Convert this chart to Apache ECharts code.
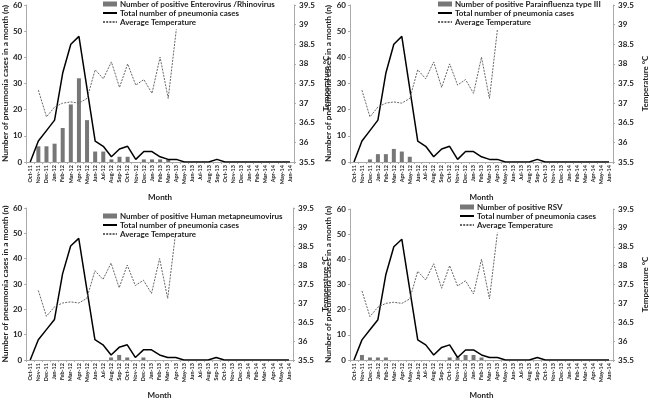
<!DOCTYPE html>
<html><head><meta charset="utf-8">
<script src="https://cdn.jsdelivr.net/npm/echarts@6/dist/echarts.min.js"></script>
<style>html,body{margin:0;padding:0;background:#fff}#c{width:650px;height:400px}</style>
</head><body><div id="c"></div>
<script>
const months = ["Oct-11","Nov-11","Dec-11","Jan-12","Feb-12","Mar-12","Apr-12","May-12","Jun-12","Jul-12","Aug-12","Sep-12","Oct-12","Nov-12","Dec-12","Jan-13","Feb-13","Mar-13","Apr-13","May-13","Jun-13","Jul-13","Aug-13","Sep-13","Oct-13","Nov-13","Dec-13","Jan-14","Feb-14","Mar-14","Apr-14","May-14","Jun-14"];
const totalCases = [0,8,12,16,34,45,48,28,8,6,2,5,6,1,4,4,2,1,1,0,0,0,0,1,0,0,0,0,0,0,0,0,0];
const avgTemp = [null,37.33,36.65,36.9,37.0,37.03,37.0,37.12,37.85,37.62,38.05,37.4,38.0,37.46,37.6,37.25,38.17,37.12,38.88,null,null,null,null,null,null,null,null,null,null,null,null,null,null];
const enteroRhino = [0,6,6,7,13,22,32,16,4,4,1,2,2,0,1,1,1,1,0,0,0,0,0,0,0,0,0,0,0,0,0,0,0];
const parainfluenza3 = [0,0,1,3,3,5,4,2,0,0,0,0,0,0,0,0,0,0,0,0,0,0,0,0,0,0,0,0,0,0,0,0,0];
const hMPV = [0,0,0,0,0,0,0,0,0,0,1,2,1,0,1,0,0,0,0,0,0,0,0,0,0,0,0,0,0,0,0,0,0];
const rsv = [0,2,1,1,1,0,0,0,0,0,0,0,1,1,2,2,1,0,0,0,0,0,0,0,0,0,0,0,0,0,0,0,0];
const barNames = ["Number of positive Enterovirus /Rhinovirus","Number of positive Parainfluenza type III","Number of positive Human metapneumovirus","Number of positive RSV"];
const barData = [enteroRhino, parainfluenza3, hMPV, rsv];
const leftTicks = [0,60,10];
const rightTicks = [35.5,39.5,0.5];

const FONT = "Lato";
const TXT = '#222';
const grids = [
  {left:24, width:270, top:5, height:157},
  {left:350, width:270, top:5, height:157},
  {left:25, width:268, top:208, height:158},
  {left:350, width:270, top:209, height:157}
];
const legendPos = [
  {left:102, top:0},
  {left:437, top:0},
  {left:102, top:212},
  {left:459, top:203}
];
const noSym = {color:'rgba(0,0,0,0)', borderWidth:0, opacity:0};
const xAxis=[], yAxis=[], series=[], legend=[];
grids.forEach((g,i)=>{
  xAxis.push({type:'category', gridIndex:i, data:months, boundaryGap:true,
    name:'Month', nameLocation:'middle', nameGap:31,
    nameTextStyle:{fontFamily:FONT,fontWeight:'bold',fontSize:8,color:TXT},
    axisLine:{lineStyle:{color:'#aaa',width:1}},
    axisTick:{show:true,length:2,lineStyle:{color:'#aaa'}},
    axisLabel:{rotate:90,interval:0,fontSize:5.5,fontFamily:FONT,fontWeight:'bold',color:TXT,margin:3}});
  yAxis.push({type:'value', gridIndex:i, min:leftTicks[0], max:leftTicks[1], interval:leftTicks[2],
    name:'Number of pneumonia cases in a month (n)', nameLocation:'middle', nameGap:17,
    nameTextStyle:{fontFamily:FONT,fontWeight:'bold',fontSize:8.3,color:TXT},
    splitLine:{show:false},
    axisLine:{show:true,lineStyle:{color:'#aaa'}},
    axisTick:{show:true,length:2,lineStyle:{color:'#aaa'}},
    axisLabel:{fontSize:8,fontFamily:FONT,fontWeight:'bold',color:TXT,margin:4}});
  yAxis.push({type:'value', gridIndex:i, position:'right', min:rightTicks[0], max:rightTicks[1], interval:rightTicks[2],
    name:'Temperature \u00B0C', nameLocation:'middle', nameGap:28,
    nameTextStyle:{fontFamily:FONT,fontWeight:'bold',fontSize:8,color:TXT},
    splitLine:{show:false},
    axisLine:{show:true,lineStyle:{color:'#aaa'}},
    axisTick:{show:true,length:2,lineStyle:{color:'#aaa'}},
    axisLabel:{fontSize:8,fontFamily:FONT,fontWeight:'bold',color:TXT,margin:5}});
  series.push({name:barNames[i], type:'bar', xAxisIndex:i, yAxisIndex:2*i, data:barData[i],
    barWidth:4, itemStyle:{color:'#777'}, z:2});
  series.push({name:'Total number of pneumonia cases', type:'line', xAxisIndex:i, yAxisIndex:2*i, data:totalCases,
    symbol:'none', lineStyle:{color:'#000',width:1.5}, itemStyle:{color:'#000'}, z:3});
  series.push({name:'Average Temperature', type:'line', xAxisIndex:i, yAxisIndex:2*i+1, data:avgTemp,
    symbol:'none', connectNulls:false, lineStyle:{color:'#666',width:1,type:[2,1.2]}, itemStyle:{color:'#666'}, z:3});
  legend.push({orient:'vertical', left:legendPos[i].left, top:legendPos[i].top, itemGap:1, itemWidth:14, itemHeight:5,
    padding:0, selectedMode:false,
    data:[{name:barNames[i], icon:'rect'},
          {name:'Total number of pneumonia cases', itemStyle:noSym},
          {name:'Average Temperature', itemStyle:noSym}],
    textStyle:{fontFamily:FONT,fontWeight:'bold',fontSize:8,color:TXT,lineHeight:8,padding:[0,0,0,-2]}});
});
const chart = echarts.init(document.getElementById('c'), null, {renderer:'canvas'});
chart.setOption({animation:false, grid:grids, xAxis, yAxis, series, legend});
</script></body></html>
